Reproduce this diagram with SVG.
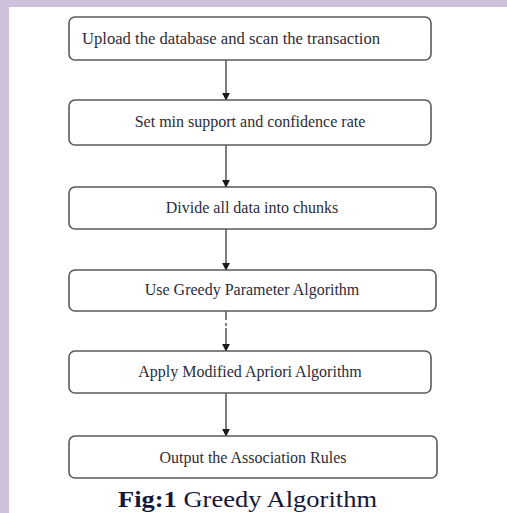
<svg xmlns="http://www.w3.org/2000/svg" width="507" height="513" viewBox="0 0 507 513">
  <style>
    .box { fill: #ffffff; stroke: #5a5a5a; stroke-width: 1.6; }
    .lbl { font-family: "Liberation Serif", "Times New Roman", serif; font-size: 16px; fill: #2c2c3a; }
    .mid { text-anchor: middle; }
    .edge { stroke: #3a3a3a; stroke-width: 1.3; fill: none; }
    .cap { font-family: "Liberation Serif", "Times New Roman", serif; font-size: 23px; fill: #14163a; }
  </style>
  <defs>
    <marker id="arrow" viewBox="0 0 10 10" refX="9" refY="5" markerWidth="8" markerHeight="8" markerUnits="userSpaceOnUse" orient="auto">
      <path d="M0,0 L10,5 L0,10 Z" fill="#1a1a1a"/>
    </marker>
  </defs>

  <!-- page background and frame -->
  <rect x="0" y="0" width="507" height="513" fill="#cfc1dc"/>
  <rect x="9" y="7" width="498" height="506" fill="#ffffff"/>

  <!-- connectors -->
  <g id="connectors">
    <line class="edge" x1="226" y1="60" x2="226" y2="100" marker-end="url(#arrow)"/>
    <line class="edge" x1="226" y1="145" x2="226" y2="187" marker-end="url(#arrow)"/>
    <line class="edge" x1="226" y1="229" x2="226" y2="270" marker-end="url(#arrow)"/>
    <line class="edge" x1="226" y1="311" x2="226" y2="320"/>
    <line class="edge" x1="226" y1="323" x2="226" y2="326"/>
    <line class="edge" x1="226" y1="328" x2="226" y2="351" marker-end="url(#arrow)"/>
    <line class="edge" x1="226" y1="393" x2="226" y2="436" marker-end="url(#arrow)"/>
  </g>

  <g id="n1">
    <rect class="box" x="69" y="17" width="362" height="43" rx="6"/>
    <text class="lbl" x="82" y="44" textLength="298" lengthAdjust="spacingAndGlyphs">Upload the database and scan the transaction</text>
  </g>
  <g id="n2">
    <rect class="box" x="69" y="100" width="362" height="45" rx="6"/>
    <text class="lbl mid" x="250" y="127">Set min support and confidence rate</text>
  </g>
  <g id="n3">
    <rect class="box" x="69" y="187" width="367" height="42" rx="6"/>
    <text class="lbl mid" x="252" y="213">Divide all data into chunks</text>
  </g>
  <g id="n4">
    <rect class="box" x="69" y="270" width="367" height="41" rx="6"/>
    <text class="lbl mid" x="252" y="295">Use Greedy Parameter Algorithm</text>
  </g>
  <g id="n5">
    <rect class="box" x="69" y="351" width="362" height="42" rx="6"/>
    <text class="lbl mid" x="250" y="377">Apply Modified Apriori Algorithm</text>
  </g>
  <g id="n6">
    <rect class="box" x="69" y="436" width="368" height="42" rx="6"/>
    <text class="lbl mid" x="253" y="463">Output the Association Rules</text>
  </g>

  <g id="caption">
    <text class="cap" x="118" y="507" textLength="259" lengthAdjust="spacingAndGlyphs"><tspan font-weight="bold">Fig:1</tspan> Greedy Algorithm</text>
  </g>
</svg>
